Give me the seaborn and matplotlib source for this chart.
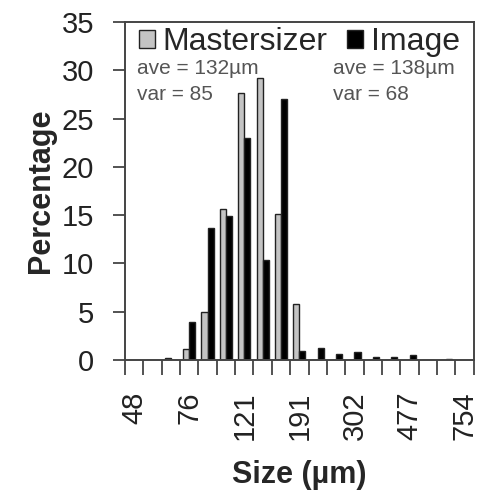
import matplotlib
matplotlib.use("Agg")
import matplotlib.pyplot as plt
from matplotlib.ticker import FixedLocator
import seaborn as sns
import pandas as pd

# Size classes (µm), one bar group each
sizes = ["48", "56", "65", "76", "88", "103", "121", "140", "163", "191",
         "222", "259", "302", "351", "409", "477", "556", "648", "754"]
# Labels shown on the axis (every third class)
shown_labels = ["48", "76", "121", "191", "302", "477", "754"]

mastersizer = [0, 0, 0.2, 1.1, 5.0, 15.6, 27.7, 29.2, 15.1, 5.8,
               0, 0, 0, 0, 0, 0, 0, 0, 0]
image = [0, 0, 0, 3.9, 13.7, 14.9, 23.0, 10.3, 27.0, 0.9,
         1.2, 0.6, 0.8, 0.3, 0.3, 0.5, 0, 0.1, 0]

series_names = ["Mastersizer", "Image"]
stats = [("ave = 132µm", "var = 85"), ("ave = 138µm", "var = 68")]

df = pd.DataFrame({
    "size": sizes * 2,
    "pct": mastersizer + image,
    "method": [series_names[0]] * len(sizes) + [series_names[1]] * len(sizes),
})

sns.set_theme(style="white")
plt.rcParams["font.family"] = ["Liberation Sans", "DejaVu Sans"]

fig = plt.figure(figsize=(4.86, 4.91), dpi=100)
ax = fig.add_axes([0.257, 0.267, 0.718, 0.688])

sns.barplot(data=df, x="size", y="pct", hue="method", order=sizes,
            hue_order=series_names, palette=["#c4c4c4", "#000000"],
            width=0.66, edgecolor="#222222", linewidth=1.0, ax=ax,
            saturation=1)

ax.set_xlim(-0.5, len(sizes) - 0.5)
ax.set_ylim(0, 35)
ax.set_yticks(range(0, 36, 5))

# Category labels every third class, tick marks at class boundaries
label_pos = [sizes.index(s) for s in shown_labels]
ax.set_xticks(label_pos)
ax.set_xticklabels(shown_labels, rotation=90, rotation_mode="anchor",
                   ha="right", va="center")
ax.xaxis.set_minor_locator(FixedLocator([i - 0.5 for i in range(len(sizes) + 1)]))
ax.tick_params(axis="x", which="major", length=0, pad=23, labelsize=21,
               colors="#222222")
ax.tick_params(axis="x", which="minor", bottom=True, length=11, width=1.3,
               color="#444444", direction="out")
ax.tick_params(axis="y", which="major", left=True, length=9, width=1.3,
               color="#444444", direction="out", labelsize=21,
               labelcolor="#222222", pad=13)

for sp in ax.spines.values():
    sp.set_visible(True)
    sp.set_color("#444444")
    sp.set_linewidth(1.4)

ax.set_xlabel("Size (µm)", fontsize=22, fontweight="bold", labelpad=14)
ax.set_ylabel("Percentage", fontsize=22, fontweight="bold", labelpad=4)

handles, labels = ax.get_legend_handles_labels()
ax.legend(handles, labels, loc="upper center", bbox_to_anchor=(0.5, 0.995),
          ncol=2, frameon=False, fontsize=23, handlelength=0.5,
          handleheight=0.5, handletextpad=0.25, columnspacing=0.6,
          borderaxespad=0, borderpad=0.1)

# Summary statistics for each method
txt_kw = dict(transform=ax.transAxes, fontsize=15, color="#555555",
              va="center", ha="left")
ax.text(0.035, 0.862, stats[0][0], **txt_kw)
ax.text(0.035, 0.785, stats[0][1], **txt_kw)
ax.text(0.595, 0.862, stats[1][0], **txt_kw)
ax.text(0.595, 0.785, stats[1][1], **txt_kw)

fig.savefig("out.png", dpi=100)
